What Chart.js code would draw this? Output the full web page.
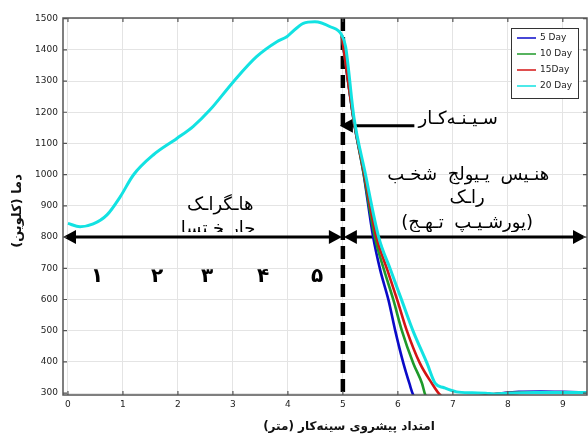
<!DOCTYPE html>
<html>
<head>
<meta charset="utf-8">
<script src="https://cdn.jsdelivr.net/npm/chart.js@4.4.1/dist/chart.umd.min.js"></script>
<style>
  body { margin: 0; background: #fff; }
  canvas { display: block; }
</style>
</head>
<body>
<canvas id="chart" width="588" height="438"></canvas>
<script>
// داده‌ها
const seriesNames = ['5 Day', '10 Day', '15Day', '20 Day'];

const x5 = [4.98, 5.2, 5.37, 5.55, 5.68, 5.83, 5.95, 6.10, 6.21, 6.28, 6.5, 7.0, 7.5, 7.75, 8.2, 8.6, 9.0, 9.44];
const y5 = [1447, 1170, 1010, 801, 694, 598, 502, 396, 331, 294, 255, 262, 285, 296, 304, 305, 304, 302];

const x10 = [4.98, 5.2, 5.37, 5.58, 5.75, 5.92, 6.07, 6.28, 6.44, 6.50, 6.7, 7.2, 7.6, 8.0, 8.5, 9.0, 9.44];
const y10 = [1447, 1172, 1012, 801, 694, 598, 502, 396, 331, 294, 262, 270, 290, 300, 302, 302, 302];

const x15 = [4.98, 5.2, 5.38, 5.61, 5.81, 5.99, 6.16, 6.40, 6.62, 6.77, 6.95, 7.3, 7.7, 8.0, 8.5, 9.0, 9.44];
const y15 = [1447, 1174, 1012, 801, 694, 598, 502, 396, 331, 294, 280, 285, 296, 300, 302, 302, 302];

const x20 = [0, 0.22, 0.46, 0.71, 0.95, 1.19, 1.55, 1.98, 2.28, 2.58, 3.01, 3.43, 3.80, 3.98, 4.04, 4.28, 4.49, 4.77, 4.98, 5.05, 5.2, 5.4, 5.65, 5.87, 6.07, 6.27, 6.53, 6.68, 6.83, 7.07, 7.35, 7.6, 7.75, 8.0, 8.5, 9.0, 9.44];
const y20 = [844, 833, 842, 871, 929, 999, 1063, 1116, 1155, 1207, 1298, 1378, 1426, 1442, 1451, 1485, 1490, 1474, 1447, 1410, 1185, 1010, 801, 694, 598, 502, 396, 331, 318, 304, 301, 300, 297, 300, 302, 302, 302];

const xTicks = [0, 1, 2, 3, 4, 5, 6, 7, 8, 9];
const yTicks = [300, 400, 500, 600, 700, 800, 900, 1000, 1100, 1200, 1300, 1400, 1500];

const zoneNumbers = ['۱', '۲', '۳', '۴', '۵'];
const zoneNumberX = [0.53, 1.62, 2.53, 3.55, 4.53];

const faceX = 5;
const arrowY = 800;

const colors = ['#0a0ac8', '#1f9a2a', '#d41414', '#12e2e2'];
const FONT = '"DejaVu Sans", sans-serif';
const LRO = '\u202D', PDF = '\u202C';

function pts(xs, ys) {
  return xs.map((v, i) => ({ x: v, y: ys[i] }));
}

function arrowHead(ctx, tipX, tipY, dir) {
  // dir = -1 به چپ، 1 به راست
  ctx.beginPath();
  ctx.moveTo(tipX, tipY);
  ctx.lineTo(tipX - dir * 13, tipY - 7);
  ctx.lineTo(tipX - dir * 13, tipY + 7);
  ctx.closePath();
  ctx.fill();
}

function hLine(ctx, x1, x2, yy) {
  ctx.beginPath();
  ctx.moveTo(x1, yy);
  ctx.lineTo(x2, yy);
  ctx.stroke();
}

const decor = {
  id: 'decor',
  beforeDatasetsDraw(chart) {
    const { ctx, chartArea: a, scales: { x, y } } = chart;
    const fx = x.getPixelForValue(faceX);
    const ay = y.getPixelForValue(arrowY);
    ctx.save();
    ctx.strokeStyle = '#000';
    ctx.fillStyle = '#000';

    // فلش‌های دوطرفه
    ctx.lineWidth = 3;
    hLine(ctx, a.left + 8, fx - 8, ay);
    arrowHead(ctx, a.left, ay, -1);
    arrowHead(ctx, fx - 1, ay, 1);
    hLine(ctx, fx + 8, a.right - 8, ay);
    arrowHead(ctx, fx + 1, ay, -1);
    arrowHead(ctx, a.right - 1, ay, 1);

    // فلش سینه‌کار
    const sy = y.getPixelForValue(1157);
    hLine(ctx, fx + 8, x.getPixelForValue(6.3), sy);
    arrowHead(ctx, fx - 3, sy, -1);

    // خط‌چین سینه‌کار
    ctx.lineWidth = 4.5;
    ctx.setLineDash([13, 6]);
    ctx.beginPath();
    ctx.moveTo(fx, a.top);
    ctx.lineTo(fx, a.bottom);
    ctx.stroke();
    ctx.setLineDash([]);
    ctx.restore();
  },
  afterDatasetsDraw(chart) {
    const { ctx, chartArea: a, scales: { x, y } } = chart;
    ctx.save();
    ctx.fillStyle = '#000';
    ctx.textBaseline = 'middle';

    ctx.font = '18px ' + FONT;
    ctx.direction = 'rtl';
    ctx.textAlign = 'right';
    ctx.fillText('سـیـنـه‌کـار', x.getPixelForValue(7.82), y.getPixelForValue(1177));

    // متن‌ها بالای فلش‌ها بریده می‌شوند
    ctx.direction = 'ltr';
    ctx.textAlign = 'center';
    ctx.save();
    ctx.beginPath();
    ctx.rect(a.left, a.top, a.width, y.getPixelForValue(arrowY) - a.top - 5);
    ctx.clip();
    ctx.letterSpacing = '5px';
    ctx.fillText(LRO + 'کـارگـاه' + PDF, x.getPixelForValue(2.77), y.getPixelForValue(903));
    ctx.fillText(LRO + 'استـخـراج' + PDF, x.getPixelForValue(2.73), y.getPixelForValue(826));
    ctx.fillText(LRO + 'بـخش جلويـي سيـنه' + PDF, x.getPixelForValue(7.28), y.getPixelForValue(999));
    ctx.fillText(LRO + 'کـار' + PDF, x.getPixelForValue(7.26), y.getPixelForValue(925));
    ctx.fillText(LRO + '(جـهـت پـیـشروی)' + PDF, x.getPixelForValue(7.26), y.getPixelForValue(845));
    ctx.restore();

    ctx.letterSpacing = '0px';
    ctx.font = 'bold 20px ' + FONT;
    zoneNumbers.forEach((t, i) => {
      ctx.fillText(t, x.getPixelForValue(zoneNumberX[i]), y.getPixelForValue(672));
    });
    ctx.restore();
  },
  afterDraw(chart) {
    const { ctx, chartArea: a, scales: { x, y } } = chart;
    ctx.save();
    // قاب و تیک‌های داخلی
    ctx.strokeStyle = '#555';
    ctx.lineWidth = 1.5;
    ctx.strokeRect(a.left, a.top, a.width, a.height);
    ctx.lineWidth = 1.2;
    ctx.beginPath();
    xTicks.forEach(v => {
      const px = x.getPixelForValue(v);
      ctx.moveTo(px, a.bottom); ctx.lineTo(px, a.bottom - 4);
      ctx.moveTo(px, a.top); ctx.lineTo(px, a.top + 4);
    });
    yTicks.forEach(v => {
      const py = y.getPixelForValue(v);
      ctx.moveTo(a.left, py); ctx.lineTo(a.left + 4, py);
      ctx.moveTo(a.right, py); ctx.lineTo(a.right - 4, py);
    });
    ctx.stroke();

    // راهنما
    const lx = a.right - 76, ly = a.top + 10;
    ctx.fillStyle = '#fff';
    ctx.fillRect(lx, ly, 67, 70);
    ctx.strokeStyle = '#333';
    ctx.lineWidth = 1;
    ctx.strokeRect(lx + 0.5, ly + 0.5, 67, 70);
    ctx.font = '9px ' + FONT;
    ctx.textBaseline = 'middle';
    ctx.textAlign = 'left';
    seriesNames.forEach((name, i) => {
      const yy = ly + 10 + i * 16;
      ctx.strokeStyle = colors[i];
      ctx.lineWidth = 1.5;
      hLine(ctx, lx + 6, lx + 25, yy);
      ctx.fillStyle = '#222';
      ctx.fillText(name, lx + 29, yy);
    });

    // عنوان محورها
    ctx.fillStyle = '#111';
    ctx.direction = 'rtl';
    ctx.textAlign = 'center';
    ctx.font = 'bold 12px ' + FONT;
    ctx.fillText('امتداد پیشروی سینه‌کار (متر)', 349, 427);
    ctx.translate(18, 211);
    ctx.rotate(-Math.PI / 2);
    ctx.font = 'bold 13px ' + FONT;
    ctx.fillText('دما (کلوین)', 0, 0);
    ctx.restore();
  }
};

const datasets = [
  { label: seriesNames[0], data: pts(x5, y5), borderColor: colors[0], order: 3 },
  { label: seriesNames[1], data: pts(x10, y10), borderColor: colors[1], order: 2 },
  { label: seriesNames[2], data: pts(x15, y15), borderColor: colors[2], order: 1 },
  { label: seriesNames[3], data: pts(x20, y20), borderColor: colors[3], order: 0, borderWidth: 3 }
];
datasets.forEach(d => {
  d.borderWidth = d.borderWidth || 2.6;
  d.pointRadius = 0;
  d.fill = false;
  d.cubicInterpolationMode = 'monotone';
});

new Chart(document.getElementById('chart'), {
  type: 'line',
  data: { datasets: datasets },
  options: {
    responsive: false,
    animation: false,
    devicePixelRatio: 1,
    layout: { padding: { top: 18, right: 1, left: 0, bottom: 0 } },
    plugins: { legend: { display: false }, tooltip: { enabled: false } },
    scales: {
      x: {
        type: 'linear',
        min: -0.09,
        max: 9.44,
        afterBuildTicks: s => { s.ticks = xTicks.map(v => ({ value: v })); },
        afterFit: s => { s.height = 43; },
        grid: { color: '#e4e4e4', drawTicks: false },
        border: { display: false },
        ticks: { padding: 4, color: '#222', font: { family: 'DejaVu Sans', size: 9 }, maxRotation: 0, callback: v => String(v) }
      },
      y: {
        min: 294,
        max: 1502,
        afterBuildTicks: s => { s.ticks = yTicks.map(v => ({ value: v })); },
        afterFit: s => { s.width = 63; },
        grid: { color: '#e4e4e4', drawTicks: false },
        border: { display: false },
        ticks: { padding: 5, color: '#222', font: { family: 'DejaVu Sans', size: 9 }, callback: v => String(v) }
      }
    }
  },
  plugins: [decor]
});
</script>
</body>
</html>
